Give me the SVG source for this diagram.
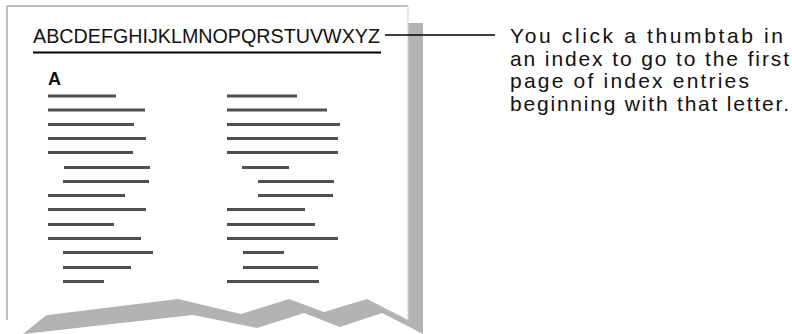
<svg xmlns="http://www.w3.org/2000/svg" width="792" height="334" viewBox="0 0 792 334">
<style>
.t{font-family:"Liberation Sans",Arial,sans-serif;fill:#111}
.ln{stroke:#505050;stroke-width:3;fill:none}
</style>
<rect width="792" height="334" fill="#fff"/>
<g id="page">
<polygon points="408,23 423,23 423,334 382,313 340,327 304,313 257,328 193,315 23,334" fill="#b3b3b3"/>
<polygon points="7,6 408,6 408,320 367,299 324,312 289,299 241,314 178,299 7,320" fill="#fff"/>
<polyline points="7,320 7,6 408,6" fill="none" stroke="#808080" stroke-width="1"/>
<line x1="408" y1="6" x2="408" y2="320" stroke="#d0d0d0" stroke-width="1"/>
</g>
<g id="thumbtabs">
<text class="t" x="33" y="42.5" font-size="20" textLength="347" lengthAdjust="spacingAndGlyphs">ABCDEFGHIJKLMNOPQRSTUVWXYZ</text>
<line x1="33" y1="52.5" x2="381" y2="52.5" stroke="#000" stroke-width="2"/>
</g>
<g id="entries">
<text class="t" x="48" y="85" font-size="18" font-weight="bold">A</text>
<path class="ln" d="M48 96H116M48 110H145M48 124.5H134M48 138.5H146M48 152.5H133M64 167.5H150M63 181.5H149M48 195.5H125M48 209.5H146M48 224.5H114M48 238.5H141M63 252.5H153M63 267.5H131M63 281.5H104"/>
<path class="ln" d="M227 96H297M227 110H327M227 124.5H340M227 138.5H338M227 152.5H338M242 167.5H289M258 181.5H334M258 195.5H333M227 209.5H305M227 224.5H315M227 238.5H338M243 252.5H284M243 267.5H318M227 281.5H319"/>
</g>
<g id="connectors">
<line x1="385" y1="35" x2="495" y2="35" stroke="#000" stroke-width="1.5"/>
</g>
<g id="callout">
<text class="t" font-size="21" lengthAdjust="spacing"><tspan x="510" y="43" textLength="273">You click a thumbtab in</tspan><tspan x="510" y="65.5" textLength="279">an index to go to the first</tspan><tspan x="510" y="88" textLength="239">page of index entries</tspan><tspan x="510" y="110.5" textLength="279">beginning with that letter.</tspan></text>
</g>
</svg>
